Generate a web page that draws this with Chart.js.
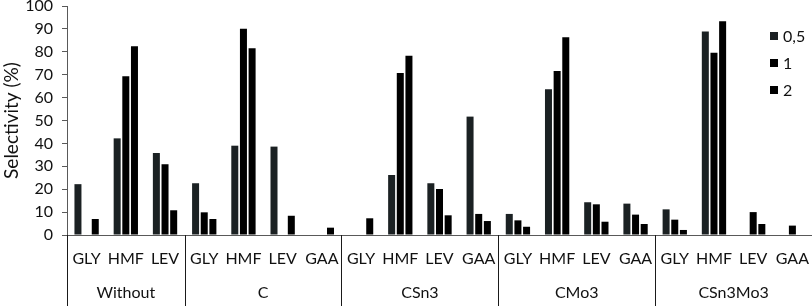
<!DOCTYPE html>
<html>
<head>
<meta charset="utf-8">
<script src="https://cdn.jsdelivr.net/npm/chart.js@4/dist/chart.umd.min.js"></script>
<style>
html,body{margin:0;padding:0;background:#fff;}
#wrap{width:812px;height:306px;position:relative;}
</style>
</head>
<body>
<div id="wrap"><canvas id="c" width="812" height="306"></canvas></div>
<script>
// ---- data ----
const groupNames = ['Without', 'C', 'CSn3', 'CMo3', 'CSn3Mo3'];
const groupSizes = [3, 4, 4, 4, 4];
const categories = ['GLY','HMF','LEV', 'GLY','HMF','LEV','GAA', 'GLY','HMF','LEV','GAA', 'GLY','HMF','LEV','GAA', 'GLY','HMF','LEV','GAA'];
const seriesNames = ['0,5', '1', '2'];
const s05 = [22.2, 42.2, 35.8, 22.6, 39.0, 38.6, 0, 0, 26.2, 22.6, 51.7, 9.2, 63.6, 14.3, 13.7, 11.2, 88.9, 0, 0];
const s1  = [0, 69.3, 30.9, 9.9, 90.1, 0, 0, 0, 70.7, 20.1, 9.2, 6.4, 71.6, 13.4, 8.9, 6.7, 79.6, 10.0, 4.1];
const s2  = [7.0, 82.4, 10.8, 7.0, 81.5, 8.4, 3.2, 7.3, 78.3, 8.6, 6.1, 3.6, 86.3, 5.8, 4.8, 2.2, 93.3, 4.8, 0];
const yTicks = [0, 10, 20, 30, 40, 50, 60, 70, 80, 90, 100];

const colors = ['#1b2123', '#000000', '#000000'];
const FONT = 'Lato, "Open Sans", sans-serif';
const TEXT = '#111111';

const groupPlugin = {
  id: 'groups',
  afterDraw(chart) {
    const ctx = chart.ctx;
    const xs = chart.scales.x;
    const ca = chart.chartArea;
    const n = categories.length;
    const cw = (xs.right - xs.left) / n;
    const H = chart.height;
    ctx.save();
    ctx.strokeStyle = '#1a1a1a';
    ctx.lineWidth = 1;
    ctx.beginPath();
    ctx.moveTo(Math.round(xs.left) + 0.5, ca.bottom);
    ctx.lineTo(Math.round(xs.left) + 0.5, H);
    ctx.stroke();
    let start = 0;
    ctx.font = '16px ' + FONT;
    ctx.fillStyle = TEXT;
    ctx.textAlign = 'center';
    ctx.textBaseline = 'middle';
    groupNames.forEach((g, i) => {
      const x0 = xs.left + start * cw;
      const x1 = xs.left + (start + groupSizes[i]) * cw;
      if (i > 0) {
        ctx.beginPath();
        ctx.moveTo(Math.round(x0) + 0.5, ca.bottom);
        ctx.lineTo(Math.round(x0) + 0.5, H);
        ctx.stroke();
      }
      ctx.fillText(g, (x0 + x1) / 2, 293);
      start += groupSizes[i];
    });
    // legend
    const lx = 770, ly = [36, 63, 90];
    seriesNames.forEach((s, i) => {
      ctx.fillStyle = colors[i];
      ctx.fillRect(lx, ly[i] - 4, 8, 8);
      ctx.fillStyle = TEXT;
      ctx.textAlign = 'left';
      ctx.fillText(s, lx + 13, ly[i] + 1);
    });
    ctx.restore();
  }
};

new Chart(document.getElementById('c'), {
  type: 'bar',
  data: {
    labels: categories,
    datasets: [
      { label: seriesNames[0], data: s05, backgroundColor: colors[0] },
      { label: seriesNames[1], data: s1, backgroundColor: colors[1] },
      { label: seriesNames[2], data: s2, backgroundColor: colors[2] }
    ]
  },
  options: {
    responsive: false,
    animation: false,
    devicePixelRatio: 1,
    layout: { padding: { top: 6, left: 0, right: 0, bottom: 0 } },
    datasets: { bar: { categoryPercentage: 0.662, barPercentage: 0.81 } },
    plugins: { legend: { display: false }, tooltip: { enabled: false } },
    scales: {
      x: {
        grid: { display: false, drawTicks: false },
        border: { display: true, color: '#595959', width: 1 },
        ticks: { font: { size: 16, family: FONT }, color: TEXT, padding: 14, maxRotation: 0, autoSkip: false },
        afterFit(s) { s.height = 71; s.paddingLeft = 0; s.paddingRight = 0; }
      },
      y: {
        min: 0, max: 100,
        afterBuildTicks(s) { s.ticks = yTicks.map(v => ({ value: v })); },
        grid: { drawOnChartArea: false, drawTicks: true, tickLength: 5, color: '#595959' },
        border: { display: true, color: '#595959', width: 1 },
        ticks: { font: { size: 16, family: FONT }, color: TEXT, padding: 9 },
        title: { display: true, text: 'Selectivity (%)', font: { size: 19, family: FONT }, color: TEXT, padding: { top: 0, bottom: 0 } },
        afterFit(s) { s.width = 67; s.paddingTop = 0; s.paddingBottom = 0; }
      }
    }
  },
  plugins: [groupPlugin]
});
</script>
</body>
</html>
